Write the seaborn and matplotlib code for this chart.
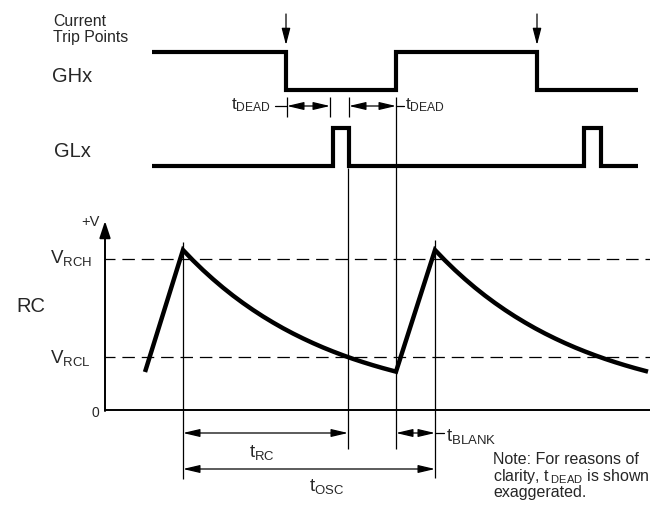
import seaborn as sns
import matplotlib.pyplot as plt

# gate drive edges (time in the diagram's own units)
ghx_t = [152, 286, 286, 396, 396, 537, 537, 638]
ghx_level = [1, 1, 0, 0, 1, 1, 0, 0]
glx_t = [152, 333, 333, 349, 349, 584, 584, 601, 601, 638]
glx_level = [0, 0, 1, 1, 0, 0, 1, 1, 0, 0]
trip_t = [286, 537]

# RC oscillator voltage (V): start of ramp, peaks, then the decay after each peak
rc_start_t = 145
rc_start_v = 0.76
rc_peak_t = [183, 435]
decay_dt = [0, 10, 20, 30, 40, 50, 60, 70, 80, 90, 100, 110,
            120, 130, 140, 150, 160, 170, 180, 190, 200, 213]
decay_v = [3.200, 2.992, 2.798, 2.617, 2.447, 2.288, 2.140, 2.001, 1.871, 1.750, 1.636, 1.530,
           1.431, 1.338, 1.251, 1.170, 1.094, 1.023, 0.957, 0.895, 0.837, 0.767]
v_rch = 3.02
v_rcl = 1.06

# timing intervals (start, end)
t_dead = [(287, 330), (349, 396)]
t_rc = (183, 348)
t_blank = (396, 435)
t_osc = (183, 435)

sns.set_theme(style="white")
plt.rcParams["font.family"] = ["Liberation Sans", "DejaVu Sans"]
plt.rcParams["mathtext.fontset"] = "custom"
plt.rcParams["mathtext.rm"] = "Liberation Sans"
plt.rcParams["mathtext.it"] = "Liberation Sans:italic"
plt.rcParams["mathtext.bf"] = "Liberation Sans:bold"


def ghx_y(l):
    return 90 - 38 * l


def glx_y(l):
    return 166 - 38 * l


def rc_y(v):
    return 410 - 50 * v


fig = plt.figure(figsize=(6.5, 5.05), dpi=100)
ax = fig.add_axes([0, 0, 1, 1])
ax.set_xlim(0, 650)
ax.set_ylim(505, 0)
ax.axis("off")

trace = dict(color="black", lw=3.0, sort=False, estimator=None,
             solid_joinstyle="miter", solid_capstyle="butt", ax=ax)
sns.lineplot(x=ghx_t, y=[ghx_y(l) for l in ghx_level], **trace)
sns.lineplot(x=glx_t, y=[glx_y(l) for l in glx_level], **trace)

rc_t = [rc_start_t] + [p + d for p in rc_peak_t for d in decay_dt]
rc_v = [rc_start_v] + decay_v * len(rc_peak_t)
sns.lineplot(x=rc_t, y=[rc_y(v) for v in rc_v], **dict(trace, lw=3.2))

# RC axes
ax.plot([105, 650], [410, 410], color="black", lw=1.4)
ax.annotate("", xy=(105, 221), xytext=(105, 411),
            arrowprops=dict(arrowstyle="-|>,head_length=0.85,head_width=0.28",
                            lw=1.4, color="black", shrinkA=0, shrinkB=0))
for v in [v_rch, v_rcl]:
    ax.plot([105, 650], [rc_y(v), rc_y(v)], color="black", lw=0.9,
            linestyle=(2, (10, 5.5)))

# current trip arrows
for t in trip_t:
    ax.annotate("", xy=(t, 45), xytext=(t, 14),
                arrowprops=dict(arrowstyle="-|>,head_length=0.85,head_width=0.22",
                                lw=0.9, color="black", shrinkA=0, shrinkB=0))

# vertical reference lines
thin = dict(color="black", lw=0.9)
ax.vlines(t_osc[0], 242, 479, **thin)
ax.vlines(t_osc[1], 240, 478, **thin)
ax.vlines(t_rc[1], 168, 449, **thin)
ax.vlines(t_dead[1][1], 97, 449, **thin)
ax.vlines([t_dead[0][0], t_dead[0][1], t_dead[1][0]], 97, 117, **thin)

dim = dict(arrowstyle="<|-|>,head_length=0.85,head_width=0.2",
           lw=0.9, color="black", shrinkA=0, shrinkB=0)


def span(a, b, y):
    ax.annotate("", xy=(b, y), xytext=(a, y), arrowprops=dim)


span(*t_dead[0], 106)
span(*t_dead[1], 106)
span(*t_rc, 433)
span(*t_blank, 433)
span(*t_osc, 469)
ax.plot([275, 287], [106, 106], **thin)
ax.plot([396, 404], [106, 106], **thin)
ax.plot([435, 444], [433, 433], **thin)

# labels
ax.text(53, 26, "Current", fontsize=11.4, va="baseline")
ax.text(53, 42, "Trip Points", fontsize=11.4, va="baseline")
ax.text(52, 82, "GHx", fontsize=14.5, va="baseline")
ax.text(54, 157, "GLx", fontsize=14.5, va="baseline")
ax.text(16, 312, "RC", fontsize=14.5, va="baseline")
ax.text(81, 226, "+V", fontsize=10.5, va="baseline")
ax.text(92, 417, "0", fontsize=10, va="baseline")
ax.text(50, 263, r"$\mathrm{V}_{\mathrm{RCH}}$", fontsize=13.5, va="baseline")
ax.text(50, 363, r"$\mathrm{V}_{\mathrm{RCL}}$", fontsize=13.5, va="baseline")

ax.text(271, 109, r"$\mathrm{t}_{\mathrm{DEAD}}$", fontsize=12.5, va="baseline", ha="right")
ax.text(405, 109, r"$\mathrm{t}_{\mathrm{DEAD}}$", fontsize=12.5, va="baseline")
ax.text(249, 457, r"$\mathrm{t}_{\mathrm{RC}}$", fontsize=13.5, va="baseline")
ax.text(309, 491, r"$\mathrm{t}_{\mathrm{OSC}}$", fontsize=13.5, va="baseline")
ax.text(446, 441, r"$\mathrm{t}_{\mathrm{BLANK}}$", fontsize=13.5, va="baseline")

note = "Note: For reasons of\n" + r"clarity, t$\,_{\mathrm{DEAD}}$ is shown" + "\nexaggerated."
ax.text(493, 497, note, fontsize=11.5, va="baseline", linespacing=0.95)

fig.savefig("out.png", dpi=100)
